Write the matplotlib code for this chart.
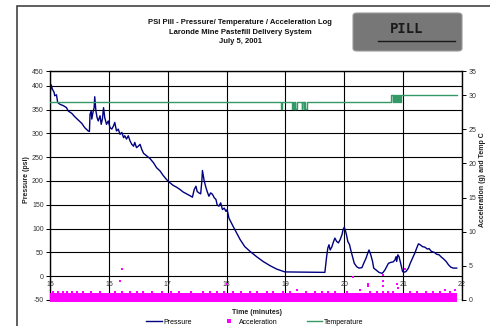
import matplotlib
matplotlib.use("Agg")
import matplotlib.pyplot as plt
from matplotlib.patches import FancyBboxPatch, Rectangle

plt.rcParams['font.family'] = ['Liberation Sans', 'DejaVu Sans']

# pressure trace (minutes, psi)
time_p = [15.00, 15.02, 15.04, 15.07, 15.08, 15.11, 15.13, 15.17, 15.23, 15.28,
          15.31, 15.37, 15.42, 15.48, 15.54, 15.59, 15.65, 15.67, 15.68, 15.70,
          15.71, 15.73, 15.75, 15.76, 15.78, 15.80, 15.82, 15.85, 15.87, 15.89,
          15.91, 15.93, 15.96, 15.99, 16.02, 16.05, 16.08, 16.10, 16.13, 16.16,
          16.19, 16.22, 16.25, 16.27, 16.30, 16.33, 16.36, 16.39, 16.42, 16.44,
          16.47, 16.50, 16.53, 16.56, 16.59, 16.70, 16.76, 16.81, 16.87, 16.92,
          16.98, 17.04, 17.09, 17.15, 17.21, 17.26, 17.32, 17.38, 17.42, 17.45,
          17.48, 17.50, 17.53, 17.56, 17.58, 17.59, 17.62, 17.65, 17.67, 17.70,
          17.73, 17.76, 17.79, 17.82, 17.84, 17.87, 17.90, 17.93, 17.96, 17.99,
          18.01, 18.04, 18.11, 18.17, 18.23, 18.31, 18.40, 18.51, 18.62, 18.74,
          18.85, 18.94, 18.99, 19.67, 19.70, 19.72, 19.74, 19.76, 19.79, 19.81,
          19.84, 19.87, 19.90, 19.93, 19.96, 19.98, 20.00, 20.03, 20.06, 20.09,
          20.11, 20.14, 20.17, 20.21, 20.25, 20.30, 20.33, 20.37, 20.40, 20.42,
          20.45, 20.48, 20.50, 20.55, 20.59, 20.64, 20.66, 20.69, 20.72, 20.75,
          20.79, 20.83, 20.86, 20.88, 20.89, 20.91, 20.93, 20.95, 20.97, 20.99,
          21.01, 21.05, 21.09, 21.12, 21.16, 21.20, 21.23, 21.26, 21.29, 21.33,
          21.37, 21.41, 21.44, 21.48, 21.53, 21.57, 21.61, 21.65, 21.69, 21.73,
          21.77, 21.81, 21.85, 21.91]
pressure = [382, 402, 393, 386, 379, 381, 365, 361, 358, 354,
            347, 342, 335, 328, 321, 312, 305, 304, 340, 347,
            330, 344, 354, 377, 347, 333, 326, 337, 319, 330,
            354, 333, 319, 326, 312, 309, 316, 323, 305, 309,
            298, 302, 291, 295, 288, 295, 284, 277, 273, 281,
            270, 273, 277, 266, 258, 247, 238, 228, 221, 212,
            203, 196, 191, 187, 182, 177, 173, 169, 166, 182,
            189, 178, 175, 173, 200, 222, 200, 186, 178, 168,
            175, 172, 165, 161, 150, 147, 154, 140, 143, 136,
            140, 122, 105, 91, 77, 62, 52, 41, 31, 22,
            15, 11, 9, 8, 41, 59, 66, 55, 62, 70,
            80, 73, 70, 77, 87, 98, 103, 91, 73, 66,
            55, 41, 27, 20, 17, 18, 27, 38, 49, 55,
            45, 31, 17, 12, 8, 6, 8, 13, 20, 27,
            29, 30, 34, 41, 31, 45, 41, 31, 20, 10,
            8, 10, 17, 27, 38, 49, 59, 68, 66, 62,
            61, 57, 58, 52, 50, 46, 45, 40, 36, 31,
            24, 19, 17, 17]

# temperature (deg C), step readings
time_temp = [15.00, 18.93, 18.95, 19.11, 19.13, 19.14, 19.16, 19.17, 19.19,
             19.28, 19.29, 19.31, 19.32, 19.34, 19.36, 20.80, 20.82, 20.83,
             20.85, 20.87, 20.88, 20.90, 20.92, 20.93, 20.95, 20.97, 21.91]
temp_c = [29, 28, 29, 28, 29, 28, 29, 28, 29,
          28, 29, 28, 29, 28, 29, 30, 29, 30,
          29, 30, 29, 30, 29, 30, 29, 30, 30]

# acceleration (g): dense band of readings plus the higher readings
band_t = [15.0, 15.5, 16.0, 16.5, 17.0, 17.5, 18.0, 18.5, 19.0, 19.5,
          20.0, 20.5, 21.0, 21.5, 21.91]
band_top = [1.05, 1.05, 1.05, 1.05, 1.05, 1.05, 1.05, 1.05, 1.05, 1.05,
            1.05, 1.05, 1.05, 1.05, 1.05]
accel_t = [15.05, 15.14, 15.22, 15.29, 15.37, 15.46, 15.56, 15.70, 15.85,
           16.10, 16.22, 16.36, 16.48, 16.58, 16.73, 16.90, 17.05, 17.20,
           17.40, 17.60, 17.72, 17.84, 17.95, 18.11, 18.25, 18.40, 18.52,
           18.69, 18.79, 18.96, 19.08, 19.20, 19.35, 19.50, 19.62, 19.72,
           19.85, 20.05, 20.27, 20.44, 20.55, 20.66, 20.75, 20.83, 21.12,
           21.24, 21.38, 21.51, 21.62, 21.71, 21.80, 21.88,
           16.19, 16.23, 18.01, 20.15, 20.41, 20.41, 20.65, 20.65, 20.65,
           20.90, 20.92, 21.03]
accel_g = [1.2, 1.2, 1.2, 1.2, 1.2, 1.2, 1.2, 1.2, 1.2,
           1.2, 1.2, 1.2, 1.2, 1.2, 1.2, 1.2, 1.2, 1.2,
           1.2, 1.2, 1.2, 1.2, 1.2, 1.2, 1.2, 1.2, 1.2,
           1.2, 1.2, 1.2, 1.2, 1.5, 1.2, 1.2, 1.2, 1.2,
           1.2, 1.2, 1.5, 1.2, 1.2, 1.2, 1.2, 1.2, 1.2,
           1.2, 1.2, 1.2, 1.2, 1.5, 1.2, 1.5,
           2.8, 4.6, 2.4, 3.3, 2.4, 2.0, 3.7, 2.8, 2.0,
           2.4, 1.7, 4.5]

minutes = [15, 16, 17, 18, 19, 20, 21, 22]
psi_ticks = [-50, 0, 50, 100, 150, 200, 250, 300, 350, 400]
right_ticks = [0, 5, 10, 15, 20, 25, 30]

navy = '#000080'
green = '#339966'
magenta = '#ff00ff'
txt = '#333333'

fig = plt.figure(figsize=(4.9, 3.26), dpi=100)
ax = fig.add_axes([50/490, 26/326, 412/490, 229/326])

# outer chart border
fig.patches.append(Rectangle((17/490, -0.1), 1.2, 1 - 6/326 + 0.1,
                             transform=fig.transFigure, fill=False,
                             edgecolor='#333333', lw=1.1))

ax.set_xlim(15, 22)
ax.set_ylim(-50, 431)
ax.set_yticks(psi_ticks + [431], labels=[str(v) for v in psi_ticks] + ['450'])
ax.set_xticks(minutes, labels=[str(m) for m in minutes])
ax.grid(True, color='black', lw=0.8)
ax.set_axisbelow(True)
ax.axhline(-50, color='black', lw=0.8)

ax.spines['bottom'].set_position(('data', 0))
ax.spines['bottom'].set_visible(False)
for s in ['left', 'right', 'top']:
    ax.spines[s].set_color('black')
    ax.spines[s].set_linewidth(1.0)
ax.tick_params(axis='x', length=0, pad=3.5, labelsize=5, labelcolor=txt)
ax.tick_params(axis='y', length=3, width=0.7, pad=1.5, labelsize=5, labelcolor=txt)

ax.plot(time_p, pressure, color=navy, lw=1.0, label='Pressure')

ax2 = ax.twinx()
ax2.set_ylim(0, 33.55)
ax2.set_yticks(right_ticks + [33.55], labels=[str(v) for v in right_ticks] + ['35'])
ax2.tick_params(axis='y', length=3, width=0.7, pad=1.5, labelsize=5, labelcolor=txt)
for s in ax2.spines.values():
    s.set_visible(False)

ax2.fill_between(band_t, -0.3, band_top, color=magenta, lw=0, clip_on=False)
ax2.plot(accel_t, accel_g, ls='none', marker='s', ms=1.8, color=magenta,
         mew=0, label='Acceleration')
ax2.plot(time_temp, temp_c, color=green, lw=1.0, drawstyle='steps-post',
         label='Temperature')

fig.text(0.49, 1 - 32/326, 'PSI Pill - Pressure/ Temperature / Acceleration Log\n'
         'Laronde Mine Pastefill Delivery System\nJuly 5, 2001',
         ha='center', va='center', fontsize=5.5, fontweight='bold',
         linespacing=1.45, color='#111111')

fig.text(257/490, 1 - 312/326, 'Time (minutes)', ha='center', va='center',
         fontsize=5, fontweight='bold', color='#222222')
fig.text(26/490, 1 - 180/326, 'Pressure (psi)', ha='center', va='center',
         rotation=90, fontsize=5, fontweight='bold', color='#222222')
fig.text(482/490, 1 - 180/326, 'Acceleration (g) and Temp C', ha='center',
         va='center', rotation=90, fontsize=5, fontweight='bold', color='#222222')

# logo box
fig.patches.append(FancyBboxPatch((353/490, 1 - 51/326), 109/490, 38/326,
                                  boxstyle='round,pad=0,rounding_size=0.008',
                                  transform=fig.transFigure,
                                  facecolor='#777777', edgecolor='#9a9a9a', lw=0.8))
fig.text(407/490, 1 - 29/326, 'PILL', ha='center', va='center', fontsize=10,
         fontweight='bold', color='#1a1a1a', family='DejaVu Sans Mono')
fig.lines.append(plt.Line2D([378/490, 455/490], [1 - 41/326, 1 - 41/326],
                            transform=fig.transFigure, color='#1a1a1a', lw=1.0))

h1, l1 = ax.get_legend_handles_labels()
h2, l2 = ax2.get_legend_handles_labels()
fig.legend([h1[0], h2[0], h2[1]], [l1[0], l2[0], l2[1]], loc='center',
           bbox_to_anchor=(255/490, 1 - 322/326), ncol=3, frameon=False,
           fontsize=5, handlelength=2.2, columnspacing=4.2, handletextpad=0.3,
           borderpad=0, markerscale=1.5)

fig.savefig('out.png', dpi=100)
